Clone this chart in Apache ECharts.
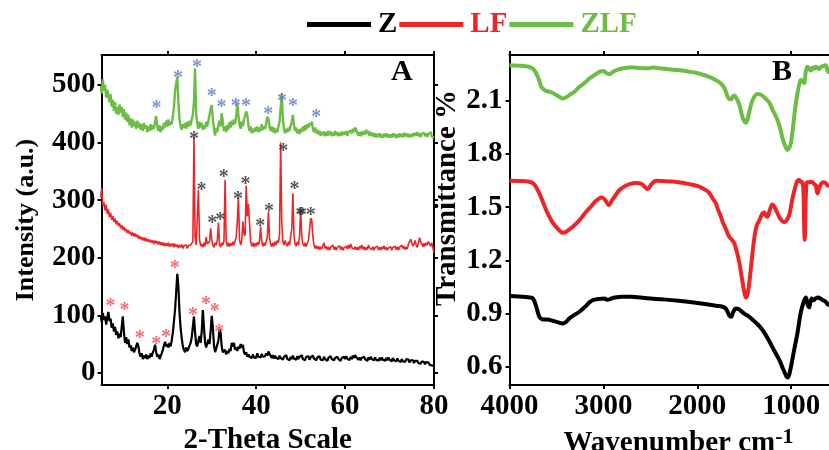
<!DOCTYPE html>
<html><head><meta charset="utf-8">
<script src="https://cdn.jsdelivr.net/npm/echarts@6/dist/echarts.min.js"></script>
<style>html,body{margin:0;padding:0;background:#fff}#c{width:829px;height:450px}</style>
</head><body><div id="c"></div><script>
// ---- XRD (panel A): 2-theta grid start/step, intensity values
const xrdStart = 5, xrdStep = 0.25;
const xrdZ = [
100,88,104,92,98,84,96,106,90,94,78,86,72,80,66,72,60,68,62,80,
98,70,52,62,50,58,44,48,38,44,36,40,42,52,46,34,28,34,24,30,
26,32,24,30,26,34,28,36,40,49,36,28,32,24,26,34,40,48,54,46,
50,44,52,46,56,70,90,110,140,172,150,105,78,60,46,40,36,44,38,42,
40,52,62,80,98,70,50,46,56,64,52,72,109,80,52,44,46,58,50,72,
99,80,48,36,42,40,56,75,70,45,36,34,40,32,38,34,42,38,52,46,
52,40,44,38,46,42,50,44,49,36,32,36,28,32,28,30,26,32,27,30,
26,34,28,30,27,33,28,31,29,34,30,37,33,30,26,31,25,30,26,28,
24,30,26,29,23,28,25,31,24,27,22,28,24,30,25,27,23,29,24,28,
25,31,24,27,22,28,25,29,23,27,24,30,25,28,22,27,24,29,23,26,
22,28,24,27,21,26,23,29,24,27,22,26,23,28,24,27,21,26,23,28,
24,29,25,27,22,28,24,30,26,31,27,25,23,27,22,26,23,28,24,26,
21,27,23,28,24,26,22,27,23,25,21,26,22,27,23,25,21,26,22,27,
23,25,20,26,22,24,20,25,21,24,19,24,20,23,19,24,21,23,18,22,
19,22,17,21,18,21,17,20,16,20,17,19,15,19,16,18,14,17,13,16,
12];
const xrdLF = [
305,321,290,296,282,292,276,284,270,278,266,272,262,268,258,264,255,260,251,257,
248,254,246,250,243,248,241,245,238,244,237,242,236,240,233,238,232,236,230,235,
229,234,228,232,227,231,226,230,224,230,225,229,223,228,222,227,221,226,220,225,
221,226,219,224,220,225,218,224,219,223,217,222,218,223,216,221,218,222,216,221,
218,222,219,228,410,236,222,224,318,232,220,224,218,226,220,236,224,222,228,251,
232,222,218,226,222,230,261,224,218,226,222,230,335,228,220,226,219,225,221,228,
222,229,236,262,306,232,222,230,263,242,238,325,272,293,260,228,220,226,219,225,
220,227,222,230,254,228,220,226,221,228,236,280,234,224,219,226,220,228,222,230,
226,240,400,262,228,222,230,224,220,228,222,236,250,312,238,224,220,228,222,238,
284,236,224,220,226,219,225,230,248,269,265,236,222,216,221,215,220,214,219,215,
221,226,216,220,214,219,213,218,215,222,214,219,213,218,215,221,214,219,213,217,
214,220,215,222,216,224,218,221,215,219,214,218,213,220,216,222,215,219,213,218,
214,222,217,220,214,219,213,218,215,220,214,218,213,219,215,221,214,218,213,217,
214,219,213,218,215,220,214,219,213,218,215,222,216,220,214,219,215,224,228,232,
226,220,224,230,222,218,226,235,228,224,219,225,220,226,222,228,224,220,226,218,
208];
const xrdZLF = [
498,485,510,490,500,478,492,482,470,484,462,474,455,470,450,462,448,466,452,462,
444,458,440,452,436,448,430,442,426,440,428,436,424,438,426,434,422,432,420,434,
424,430,418,428,420,432,422,430,424,436,446,428,420,430,418,428,422,434,426,438,
428,440,430,436,432,446,462,490,503,514,470,440,428,422,432,426,434,424,436,428,
438,430,440,448,470,529,450,432,424,436,426,434,422,430,424,436,428,438,448,458,
465,440,424,412,426,418,430,438,428,451,436,420,428,418,430,422,436,426,438,430,
440,432,446,468,448,430,424,436,428,440,446,454,448,430,420,428,416,424,418,426,
420,428,418,426,420,432,422,428,424,434,445,440,428,420,428,418,426,416,424,418,
428,436,460,486,440,424,416,424,418,426,420,430,436,448,430,420,426,416,422,415,
424,418,428,420,430,422,432,426,434,430,436,424,418,426,416,422,414,420,412,418,
413,419,411,418,412,420,413,419,411,417,412,420,413,418,411,417,412,419,413,418,
414,420,412,418,415,421,416,424,418,426,422,417,412,418,411,419,413,420,414,422,
415,420,412,418,411,417,410,416,409,415,410,416,409,414,408,415,410,416,409,414,
408,414,409,416,410,415,408,414,409,416,410,415,409,417,411,416,410,415,409,414,
410,416,411,417,412,418,411,416,410,415,412,417,411,416,410,415,412,418,411,414,
408];
const thetaTicks = [20, 40, 60, 80];
const intensityTicks = [0, 100, 200, 300, 400, 500];
// peak markers (asterisks): [2-theta, intensity]
const starsZ = [[7.2,124],[10.4,116],[13.8,68],[17.5,58],[19.7,70],[21.7,189],[25.8,108],[28.7,127],[30.7,114],[31.7,78]];
const starsLF = [[26.0,413],[27.7,325],[30.1,267],[31.9,273],[32.7,348],[35.9,309],[37.6,335],[40.9,263],[42.9,288],[46.1,392],[48.6,326],[49.9,281],[50.3,281],[52.3,282]];
const starsZLF = [[17.6,467],[22.4,519],[26.7,539],[30.0,488],[32.2,469],[35.4,471],[37.7,471],[42.7,457],[45.8,480],[48.3,471],[53.5,451]];

// ---- FTIR (panel B): [wavenumber, transmittance]
const ftirZLF = [[4000,2.300],[3900,2.298],[3800,2.292],[3750,2.280],[3716,2.255],[3680,2.210],[3663,2.180],[3630,2.162],[3610,2.156],[3560,2.148],[3521,2.138],[3470,2.122],[3433,2.113],[3400,2.118],[3362,2.132],[3300,2.155],[3255,2.179],[3200,2.200],[3149,2.226],[3080,2.250],[3030,2.266],[3000,2.268],[2965,2.255],[2936,2.250],[2900,2.262],[2865,2.272],[2800,2.282],[2723,2.288],[2650,2.286],[2546,2.283],[2500,2.284],[2470,2.288],[2404,2.283],[2300,2.277],[2191,2.272],[2100,2.265],[2014,2.258],[1950,2.248],[1880,2.236],[1837,2.226],[1780,2.210],[1745,2.195],[1720,2.180],[1695,2.150],[1677,2.123],[1660,2.110],[1642,2.108],[1620,2.125],[1606,2.130],[1580,2.110],[1553,2.080],[1520,2.010],[1495,1.980],[1482,1.976],[1465,1.995],[1445,2.040],[1420,2.090],[1390,2.125],[1360,2.138],[1330,2.136],[1300,2.125],[1270,2.110],[1234,2.090],[1199,2.050],[1170,2.020],[1145,1.990],[1115,1.940],[1092,1.888],[1060,1.840],[1039,1.822],[1020,1.835],[1004,1.860],[985,1.930],[968,2.010],[950,2.085],[930,2.150],[915,2.190],[897,2.217],[880,2.212],[862,2.200],[845,2.262],[826,2.292],[810,2.280],[790,2.270],[773,2.288],[755,2.280],[737,2.292],[720,2.285],[700,2.280],[684,2.290],[660,2.296],[631,2.300],[606,2.262],[580,2.270],[540,2.285],[480,2.280],[400,2.280]];
const ftirLF = [[4000,1.649],[3900,1.648],[3787,1.643],[3740,1.630],[3699,1.596],[3660,1.550],[3610,1.484],[3560,1.430],[3521,1.399],[3470,1.370],[3433,1.356],[3400,1.360],[3326,1.389],[3250,1.430],[3184,1.474],[3130,1.505],[3078,1.536],[3018,1.555],[2980,1.540],[2945,1.512],[2900,1.545],[2830,1.596],[2780,1.615],[2723,1.630],[2650,1.636],[2600,1.632],[2560,1.615],[2529,1.602],[2490,1.628],[2440,1.649],[2380,1.648],[2298,1.645],[2200,1.640],[2085,1.630],[2000,1.620],[1943,1.606],[1880,1.585],[1837,1.550],[1800,1.520],[1784,1.493],[1750,1.450],[1730,1.418],[1690,1.370],[1660,1.333],[1630,1.315],[1606,1.296],[1580,1.250],[1553,1.190],[1525,1.100],[1500,1.023],[1482,0.990],[1465,1.010],[1447,1.070],[1420,1.200],[1394,1.320],[1370,1.390],[1340,1.425],[1305,1.465],[1287,1.470],[1265,1.450],[1252,1.446],[1230,1.480],[1199,1.515],[1175,1.500],[1145,1.465],[1110,1.430],[1074,1.415],[1050,1.425],[1021,1.455],[990,1.540],[968,1.590],[933,1.650],[915,1.653],[895,1.642],[882,1.640],[870,1.600],[862,1.400],[856,1.315],[850,1.400],[842,1.590],[830,1.640],[809,1.640],[791,1.643],[770,1.640],[755,1.630],[737,1.622],[720,1.578],[705,1.600],[684,1.628],[660,1.640],[631,1.635],[606,1.620],[560,1.625],[480,1.630],[400,1.630]];
const ftirZ = [[4000,0.999],[3900,0.996],[3787,0.991],[3750,0.985],[3716,0.940],[3680,0.880],[3646,0.867],[3600,0.866],[3539,0.859],[3480,0.850],[3433,0.844],[3400,0.852],[3362,0.873],[3300,0.895],[3255,0.910],[3200,0.935],[3150,0.962],[3113,0.976],[3050,0.982],[2990,0.985],[2960,0.978],[2936,0.980],[2900,0.988],[2794,0.995],[2700,0.995],[2600,0.990],[2500,0.985],[2369,0.980],[2200,0.972],[2014,0.961],[1900,0.952],[1800,0.944],[1730,0.938],[1700,0.930],[1677,0.910],[1660,0.890],[1640,0.882],[1620,0.905],[1600,0.925],[1588,0.929],[1560,0.925],[1535,0.915],[1500,0.900],[1447,0.882],[1400,0.860],[1340,0.830],[1290,0.795],[1234,0.745],[1180,0.690],[1128,0.640],[1080,0.580],[1050,0.545],[1035,0.540],[1010,0.580],[970,0.690],[933,0.790],[900,0.900],[870,0.960],[844,0.990],[825,0.950],[809,0.935],[795,0.965],[780,0.985],[760,0.975],[740,0.985],[710,0.990],[690,0.985],[660,0.975],[630,0.965],[606,0.950],[560,0.955],[480,0.960],[400,0.960]];
const wnTicks = [4000, 3000, 2000, 1000];
const transTicks = [0.6, 0.9, 1.2, 1.5, 1.8, 2.1];

const names = ['Z', 'LF', 'ZLF'];
const colors = ['#000000', '#ee2427', '#6cbd45'];
const starColors = ['#f0474a', '#2b2b2b', '#5d77c2'];

const FONT = 'Liberation Serif';
const toPairs = arr => arr.map((v, i) => [xrdStart + i * xrdStep, v]);

const axisLine = { show: true, onZero: false, lineStyle: { color: '#000', width: 2 } };
const tickStyle = { color: '#000', width: 2 };
const labelStyle = { fontFamily: FONT, fontWeight: 'bold', fontSize: 29, color: '#000' };

const chart = echarts.init(document.getElementById('c'), null, { renderer: 'canvas' });

function lineSeries(name, color, data, xi, yi, width, smooth) {
  return { name, type: 'line', xAxisIndex: xi, yAxisIndex: yi, data, showSymbol: false, symbol: 'none',
    smooth: smooth || false, lineStyle: { color, width }, itemStyle: { color }, animation: false, z: 3 };
}
function starSeries(data, color) {
  return { type: 'scatter', xAxisIndex: 0, yAxisIndex: 0, data, symbol: 'circle', symbolSize: 8,
    itemStyle: { color: 'rgba(0,0,0,0)' }, silent: true, z: 5,
    label: { show: true, position: 'inside', formatter: '*', fontFamily: FONT, fontWeight: 'bold',
      fontSize: 20, color, offset: [0, 5] } };
}

chart.setOption({
  animation: false,
  backgroundColor: '#fff',
  title: [
    { text: 'A', left: 391, top: 57, padding: 0, textStyle: { fontFamily: FONT, fontWeight: 'bold', fontSize: 30, color: '#000' } },
    { text: 'B', left: 772, top: 57, padding: 0, textStyle: { fontFamily: FONT, fontWeight: 'bold', fontSize: 30, color: '#000' } }
  ],
  legend: {
    left: 307, top: 10, padding: 0, itemWidth: 64, itemHeight: 5, itemGap: 2, icon: 'rect',
    data: names.map((n, i) => ({ name: n, textStyle: { color: colors[i] } })),
    textStyle: { fontFamily: FONT, fontWeight: 'bold', fontSize: 29, padding: [0, 0, 0, 2] }
  },
  grid: [
    { left: 101.5, top: 55, width: 332.5, height: 330, outerBoundsMode: 'none', containLabel: false },
    { left: 509.5, top: 55, width: 338, height: 330, outerBoundsMode: 'none', containLabel: false }
  ],
  xAxis: [
    { gridIndex: 0, type: 'value', min: 5.2, max: 80, position: 'bottom', axisLine,
      axisTick: { show: true, inside: false, length: 4, lineStyle: tickStyle, customValues: thetaTicks },
      axisLabel: Object.assign({ margin: 7, customValues: thetaTicks }, labelStyle),
      splitLine: { show: false },
      name: '2-Theta Scale', nameLocation: 'middle', nameGap: 36,
      nameTextStyle: { fontFamily: FONT, fontWeight: 'bold', fontSize: 29, color: '#000' } },
    { gridIndex: 0, type: 'value', min: 5.2, max: 80, position: 'top', axisLine,
      axisTick: { show: true, inside: false, length: 4, lineStyle: tickStyle, customValues: thetaTicks },
      axisLabel: { show: false }, splitLine: { show: false } },
    { gridIndex: 1, type: 'value', min: 400, max: 4000, inverse: true, position: 'bottom', axisLine,
      axisTick: { show: true, inside: false, length: 4, lineStyle: tickStyle, customValues: wnTicks },
      axisLabel: Object.assign({ margin: 7, customValues: wnTicks, formatter: v => String(v) }, labelStyle),
      splitLine: { show: false },
      name: 'Wavenumber cm{sup|-1}', nameLocation: 'middle', nameGap: 35,
      nameTextStyle: { fontFamily: FONT, fontWeight: 'bold', fontSize: 29, color: '#000',
        rich: { sup: { fontFamily: FONT, fontWeight: 'bold', fontSize: 22, color: '#000', verticalAlign: 'bottom', padding: [0, 0, 14, 0] } } } },
    { gridIndex: 1, type: 'value', min: 400, max: 4000, inverse: true, position: 'top', axisLine,
      axisTick: { show: true, inside: false, length: 4, lineStyle: tickStyle, customValues: wnTicks },
      axisLabel: { show: false }, splitLine: { show: false } }
  ],
  yAxis: [
    { gridIndex: 0, type: 'value', min: -21, max: 552, position: 'left', axisLine,
      axisTick: { show: true, inside: false, length: 4, lineStyle: tickStyle, customValues: intensityTicks },
      axisLabel: Object.assign({ margin: 6, customValues: intensityTicks }, labelStyle),
      splitLine: { show: false },
      name: 'Intensity (a.u.)', nameLocation: 'middle', nameGap: 62, nameRotate: 90,
      nameTextStyle: { fontFamily: FONT, fontWeight: 'bold', fontSize: 26, color: '#000' } },
    { gridIndex: 0, type: 'value', min: -21, max: 552, position: 'right', axisLine,
      axisTick: { show: true, inside: false, length: 4, lineStyle: tickStyle, customValues: intensityTicks },
      axisLabel: { show: false }, splitLine: { show: false } },
    { gridIndex: 1, type: 'value', min: 0.497, max: 2.358, position: 'left', axisLine,
      axisTick: { show: true, inside: false, length: 4, lineStyle: tickStyle, customValues: transTicks },
      axisLabel: Object.assign({ margin: 7, customValues: transTicks, formatter: v => v.toFixed(1) }, labelStyle),
      splitLine: { show: false },
      name: 'Transmittance %', nameLocation: 'middle', nameGap: 35, nameRotate: 90,
      nameTextStyle: { fontFamily: FONT, fontWeight: 'bold', fontSize: 29, color: '#000', padding: [0, 0, 0, 44] } }
  ],
  series: [
    lineSeries('Z', colors[0], toPairs(xrdZ), 0, 0, 2.2),
    lineSeries('LF', colors[1], toPairs(xrdLF), 0, 0, 1.6),
    lineSeries('ZLF', colors[2], toPairs(xrdZLF), 0, 0, 2.4),
    lineSeries('Z', colors[0], ftirZ, 2, 2, 4, 0.4),
    lineSeries('LF', colors[1], ftirLF, 2, 2, 4, 0.4),
    lineSeries('ZLF', colors[2], ftirZLF, 2, 2, 4, 0.4),
    starSeries(starsZ, starColors[0]),
    starSeries(starsLF, starColors[1]),
    starSeries(starsZLF, starColors[2])
  ]
});
</script></body></html>
